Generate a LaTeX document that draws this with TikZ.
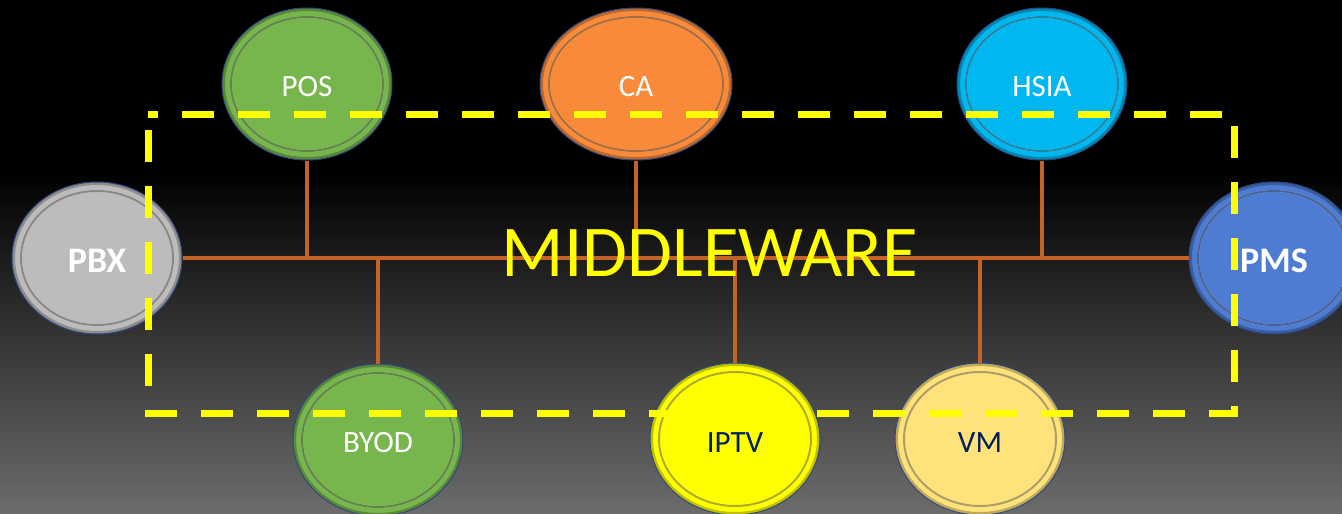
\documentclass[tikz,border=0pt]{standalone}
\usepackage{fontspec}
\setmainfont{Carlito}
\usepackage{tikz}
\usetikzlibrary{shapes.geometric,calc}

\definecolor{bggray}{RGB}{108,108,108}
\definecolor{rimblue}{RGB}{45,70,125}
\definecolor{busbrown}{RGB}{196,98,40}
\definecolor{pbxgray}{RGB}{190,187,187}
\definecolor{posgreen}{RGB}{119,182,77}
\definecolor{caorange}{RGB}{249,138,58}
\definecolor{hsiacyan}{RGB}{0,183,240}
\definecolor{pmsblue}{RGB}{78,124,210}
\definecolor{iptvyellow}{RGB}{255,255,0}
\definecolor{vmyellow}{RGB}{255,226,122}
\definecolor{labelnavy}{RGB}{0,32,96}
\definecolor{boxyellow}{RGB}{255,255,0}

\tikzset{
  bubble/.style={ellipse, fill=#1, draw=rimblue, line width=1pt,
    minimum width=170pt, minimum height=152pt, inner sep=0pt, text height=26pt,
    text=white, font=\fontsize{31}{37}\selectfont,
    path picture={
      \draw[#1!75!black, line width=4pt] let \p1=(path picture bounding box.north east), \p2=(path picture bounding box.center)
        in (\p2) ellipse [x radius=\x1-\x2-1pt, y radius=\y1-\y2-1pt];
      \draw[white, opacity=.6, line width=2pt, yshift=-2.5pt] let \p1=(path picture bounding box.north east), \p2=(path picture bounding box.center)
        in (\p2) ellipse [x radius=\x1-\x2-9pt, y radius=\y1-\y2-9pt];
      \draw[#1!60!black, opacity=.8, line width=2pt] let \p1=(path picture bounding box.north east), \p2=(path picture bounding box.center)
        in (\p2) ellipse [x radius=\x1-\x2-9pt, y radius=\y1-\y2-9pt];
    }},
  boldlabel/.style={text height=29pt, font=\fontsize{36}{43}\selectfont\bfseries},
  link/.style={draw=busbrown, line width=4pt},
  dashbox/.style={draw=boxyellow, line width=7pt, dash pattern=on 32pt off 24pt, dash phase=22pt},
}

\begin{document}
\begin{tikzpicture}[x=1pt,y=-1pt] % 8 nodes
  \useasboundingbox (0,0) rectangle (1342,514);
  \fill[black] (0,0) rectangle (1342,514);
  \shade[top color=black, bottom color=bggray] (0,170) rectangle (1342,514);

  \node[name=pbx, bubble=pbxgray, boldlabel] at (97,258){PBX};
  \node[name=pms, bubble=pmsblue, boldlabel] at (1274,258){PMS};
  \node[name=pos, bubble=posgreen] at (307,84){POS};
  \node[name=ca, bubble=caorange, minimum width=192pt] at (636,84){CA};
  \node[name=hsia, bubble=hsiacyan] at (1042,84){HSIA};
  \node[name=byod, bubble=posgreen] at (378,440){BYOD};
  \node[name=iptv, bubble=iptvyellow, text=labelnavy] at (735,439){IPTV};
  \node[name=vm, bubble=vmyellow, text=labelnavy] at (980,439){VM};

  \draw[link] (pbx.east) -- (pms.west);
  \draw[link] (pos.south) -- (pos.south |- pbx.east);
  \draw[link] (ca.south) -- (ca.south |- pbx.east);
  \draw[link] (hsia.south) -- (hsia.south |- pbx.east);
  \draw[link] (byod.north) -- (byod.north |- pbx.east);
  \draw[link] (iptv.north) -- (iptv.north |- pbx.east);
  \draw[link] (vm.north) -- (vm.north |- pbx.east);

  \node[name=mw, text=boxyellow, inner sep=0pt, font=\fontsize{73}{87}\selectfont] at (710,253){MIDDLEWARE};

  \draw[dashbox] (148,114) -- (1234,114) -- (1234,413) -- (148,413) -- cycle;
\end{tikzpicture}
\end{document}
